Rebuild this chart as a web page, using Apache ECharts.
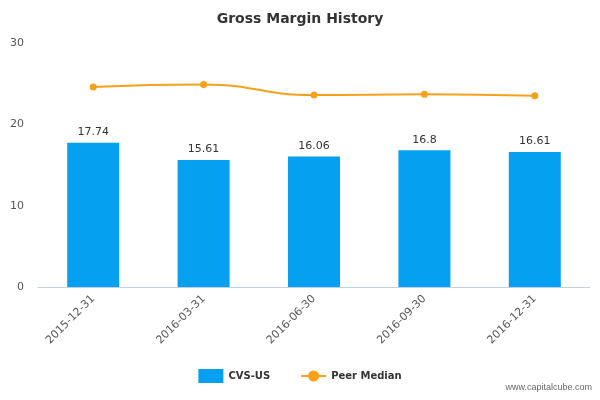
<!DOCTYPE html>
<html>
<head>
<meta charset="utf-8">
<script src="https://cdn.jsdelivr.net/npm/echarts@6/dist/echarts.min.js"></script>
<style>html,body{margin:0;padding:0;background:#fff}#chart{width:600px;height:400px}</style>
</head>
<body>
<div id="chart"></div>
<script>
const categories = ['2015-12-31', '2016-03-31', '2016-06-30', '2016-09-30', '2016-12-31']
const companyValues = [17.74, 15.61, 16.06, 16.8, 16.61]
const peerMedian = [24.6, 24.9, 23.6, 23.7, 23.5]
const yTicks = [0, 10, 20, 30]

const chart = echarts.init(document.getElementById('chart'))
chart.setOption({
  animation: false,
  textStyle: { fontFamily: 'DejaVu Sans' },
  title: {
    text: 'Gross Margin History',
    left: 'center',
    top: 7,
    textStyle: { fontSize: 14, fontWeight: 'bold', color: '#333' }
  },
  legend: {
    bottom: 12,
    left: 'center',
    itemGap: 30,
    textStyle: { fontSize: 10, fontWeight: 'bold', color: '#333' },
    data: [
      { name: 'CVS-US', icon: 'rect' },
      { name: 'Peer Median' }
    ]
  },
  graphic: [{
    type: 'text', right: 8, bottom: 8,
    style: { text: 'www.capitalcube.com', fontSize: 9, fill: '#666' }
  }],
  grid: { left: 38, right: 10, top: 43, bottom: 113 },
  xAxis: {
    type: 'category',
    data: categories,
    axisLine: { lineStyle: { color: '#c0d0e0' } },
    axisTick: { alignWithLabel: false, length: 8, lineStyle: { color: '#c0d0e0' } },
    axisLabel: { rotate: 45, color: '#555', fontSize: 11, margin: 10 }
  },
  yAxis: {
    type: 'value',
    min: yTicks[0],
    max: yTicks[yTicks.length - 1],
    interval: 10,
    splitLine: { show: false },
    axisLine: { show: false },
    axisTick: { show: false },
    axisLabel: { color: '#555', fontSize: 11, margin: 14 }
  },
  series: [
    {
      name: 'CVS-US',
      type: 'bar',
      data: companyValues,
      barWidth: 52,
      itemStyle: { color: '#06a0f0' },
      label: { show: true, position: 'top', color: '#333', fontSize: 11 }
    },
    {
      name: 'Peer Median',
      type: 'line',
      data: peerMedian,
      smooth: true,
      symbol: 'circle',
      symbolSize: 7,
      lineStyle: { color: '#f7a11a', width: 2 },
      itemStyle: { color: '#f7a11a' }
    }
  ]
})
</script>
</body>
</html>
